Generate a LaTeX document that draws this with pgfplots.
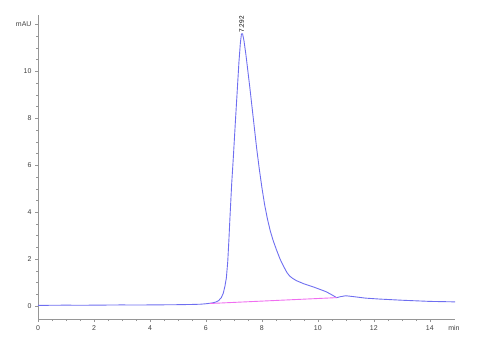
\documentclass[border=0pt]{standalone}
\usepackage{fontspec}
\setmainfont{Liberation Sans}
\usepackage{pgfplots}
\pgfplotsset{compat=1.18}
\definecolor{sig}{RGB}{110,110,240}
\definecolor{base}{RGB}{240,110,240}
\definecolor{axg}{RGB}{150,150,150}
\begin{document}
\begin{tikzpicture}[x=1bp,y=1bp]
\useasboundingbox (0,0) rectangle (477,350);
\begin{axis}[
  at={(38bp,31bp)}, anchor=south west,
  scale only axis, width=417bp, height=304bp,
  xmin=0, xmax=14.9, ymin=-0.55, ymax=12.4,
  axis x line=bottom, axis y line=left,
  axis line style={axg, -},
  every tick/.style={axg},
  tick align=outside,
  major tick length=3bp, minor tick length=2bp,
  xtick={0,2,...,14}, ytick={0,2,...,12},
  yticklabels={0,2,4,6,8,10,mAU},
  minor x tick num=3, minor y tick num=3,
  tick label style={font=\fontsize{7}{8}\selectfont, text=black!75},
  /pgf/number format/assume math mode=true,
  clip=false,
]
\addplot[sig, line width=0.9pt, line join=round] coordinates {
(0,0.03) (0.5,0.035) (1,0.04) (1.5,0.035) (2,0.04) (2.5,0.045) (3,0.05) (3.5,0.045) (4,0.05) (4.5,0.055) (5,0.06) (5.5,0.07) (5.8,0.08) (6.0,0.1) (6.2,0.13) (6.35,0.17) (6.45,0.23) (6.55,0.36) (6.62,0.55) (6.68,0.85) (6.73,1.2) (6.78,1.9) (6.82,2.8) (6.86,3.8) (6.92,5.2) (6.98,6.35) (7.05,7.8) (7.12,9.2) (7.18,10.4) (7.23,11.2) (7.27,11.6) (7.31,11.6) (7.36,11.3) (7.43,10.7) (7.5,10.0) (7.57,9.3) (7.65,8.45) (7.73,7.6) (7.81,6.75) (7.9,5.9) (8.0,5.05) (8.1,4.3) (8.2,3.7) (8.3,3.2) (8.4,2.8) (8.52,2.4) (8.65,2.0) (8.78,1.68) (8.9,1.42) (9.0,1.27) (9.1,1.18) (9.24,1.08) (9.5,0.95) (9.83,0.82) (10.1,0.7) (10.3,0.61) (10.5,0.48) (10.67,0.36) (10.8,0.4) (11.0,0.44) (11.3,0.4) (11.7,0.34) (12.2,0.30) (13,0.25) (14,0.2) (14.9,0.18)
};
\addplot[base, line width=0.9pt] coordinates {(6.14,0.11) (10.67,0.36)};
\node[rotate=90, anchor=west, font=\fontsize{6.5}{7}\selectfont, inner sep=1bp] at (axis cs:7.28,11.6) {7.292};
\node[anchor=north, font=\fontsize{7}{8}\selectfont, text=black!75, inner sep=0pt] at (axis cs:14.86,-0.55) [yshift=-6bp] {min};
\end{axis}
\end{tikzpicture}
\end{document}
